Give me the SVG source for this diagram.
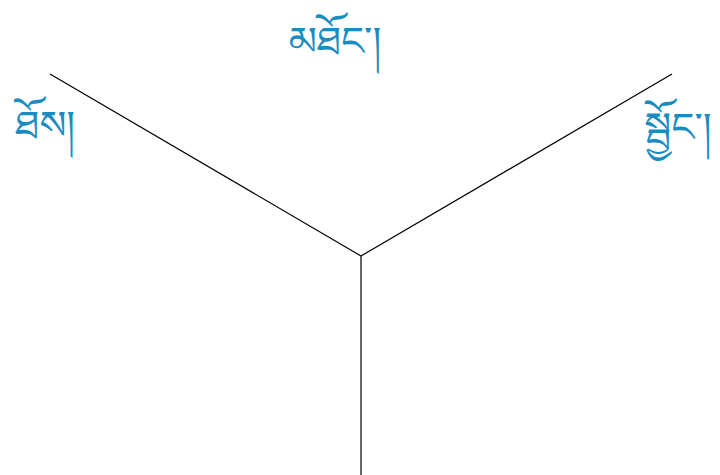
<svg xmlns="http://www.w3.org/2000/svg" width="720" height="475" viewBox="0 0 720 475">
<style>
.lbl{font-family:"Noto Sans Tibetan","Noto Serif Tibetan","Jomolhari","Microsoft Himalaya","Noto Sans",sans-serif;font-size:40px;fill:#1a8cc2;}
.edge{stroke:#000;stroke-width:1.2;fill:none;}
</style>
<rect width="720" height="475" fill="#fff"/>
<g id="connectors">
<line class="edge" x1="50" y1="74" x2="361" y2="256"/>
<line class="edge" x1="672" y1="74" x2="361" y2="256"/>
<line class="edge" x1="361" y1="256" x2="361" y2="475"/>
</g>
<g id="node-top"><text class="lbl" x="335" y="55" text-anchor="middle">མཐོང་།</text></g>
<g id="node-left"><text class="lbl" x="45" y="139" text-anchor="middle">ཐོས།</text></g>
<g id="node-right"><text class="lbl" x="678" y="141" text-anchor="middle">སྦྱོང་།</text></g>
</svg>
